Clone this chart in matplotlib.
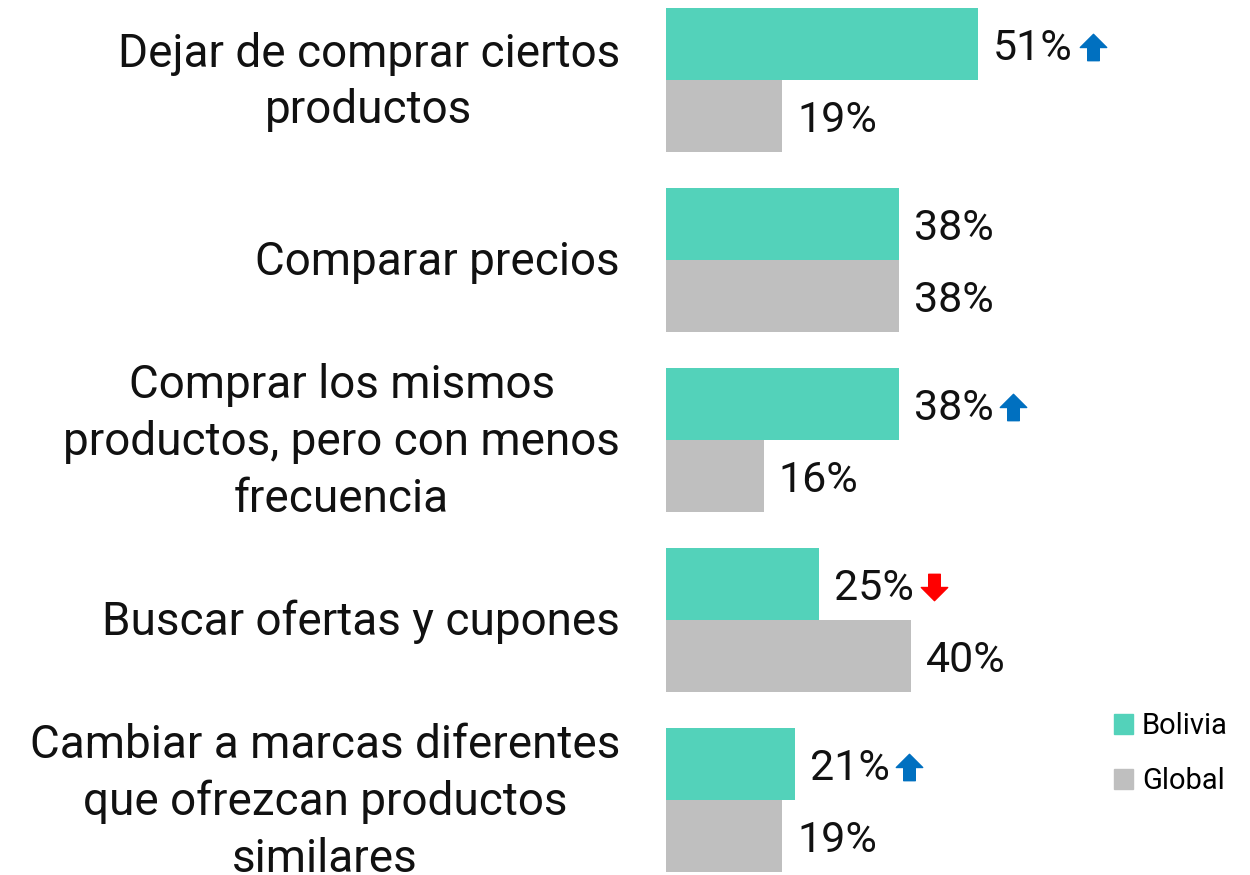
import numpy as np
import matplotlib.pyplot as plt
from matplotlib.path import Path
from matplotlib.patches import Patch

# datos
categorias = ['Dejar de comprar ciertos\nproductos',
              'Comparar precios',
              'Comprar los mismos\nproductos, pero con menos\nfrecuencia',
              'Buscar ofertas y cupones',
              'Cambiar a marcas diferentes\nque ofrezcan productos\nsimilares']
bolivia = [51, 38, 38, 25, 21]
global_ = [19, 38, 16, 40, 19]
flechas = ['up', None, 'up', 'down', 'up']

c_bol = '#53D2BA'
c_glo = '#BFBFBF'

plt.rcParams['font.family'] = ['Roboto', 'DejaVu Sans']

fig = plt.figure(figsize=(12.5, 8.75), dpi=100)
ax = fig.add_axes([666/1250, 0, 584/1250, 1])

y = np.arange(len(categorias))
h = 0.4
ax.barh(y - h/2, bolivia, height=h, color=c_bol)
ax.barh(y + h/2, global_, height=h, color=c_glo)

ax.set_xlim(0, 584/6.12)
ax.set_ylim(4.4 + 3/180, -0.4 - 8/180)
ax.axis('off')

# etiquetas de categoria
for i, cat in enumerate(categorias):
    ax.annotate(cat, xy=(0, i), xycoords=('data', 'data'), xytext=(-46, -2),
                textcoords='offset pixels', ha='right', va='center',
                multialignment='center', fontsize=33, color='#111111',
                linespacing=1.36)

# etiquetas de valores
textos_bol = []
for i in range(len(categorias)):
    t = ax.annotate(f'{bolivia[i]}%', xy=(bolivia[i], i - h/2), xytext=(15, -4),
                    textcoords='offset pixels', ha='left', va='center',
                    fontsize=31, color='#111111')
    textos_bol.append(t)
    ax.annotate(f'{global_[i]}%', xy=(global_[i], i + h/2), xytext=(15, -4),
                textcoords='offset pixels', ha='left', va='center',
                fontsize=31, color='#111111')

# flechas
verts_up = [(-0.5, 0.0), (0.0, 0.5), (0.5, 0.0), (0.22, 0.0), (0.22, -0.5),
            (-0.22, -0.5), (-0.22, 0.0), (-0.5, 0.0)]
verts_down = [(vx, -vy) for vx, vy in verts_up]
m_up = Path(verts_up, closed=True)
m_down = Path(verts_down, closed=True)

fig.canvas.draw()
inv = ax.transData.inverted()
for i, f in enumerate(flechas):
    if f is None:
        continue
    bb = textos_bol[i].get_window_extent()
    px = bb.x1 + 20
    py = (bb.y0 + bb.y1) / 2 + 1
    xd, yd = inv.transform((px, py))
    if f == 'up':
        ax.plot(xd, yd, marker=m_up, markersize=19, color='#0070C0',
                clip_on=False)
    else:
        ax.plot(xd, yd, marker=m_down, markersize=19, color='#FF0000',
                clip_on=False)

# leyenda
handles = [Patch(color=c_bol, label='Bolivia'), Patch(color=c_glo, label='Global')]
fig.legend(handles=handles, loc='upper left', bbox_to_anchor=(1088/1250, 1 - 686/875),
           frameon=False, fontsize=21, handlelength=0.65, handleheight=0.65,
           handletextpad=0.3, labelspacing=0.92)

plt.savefig('out.png', dpi=100)
